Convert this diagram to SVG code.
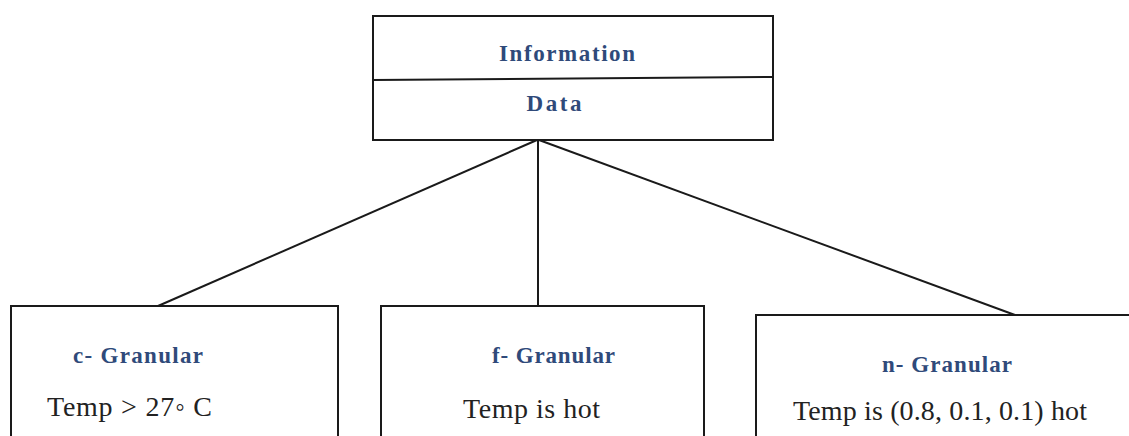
<svg xmlns="http://www.w3.org/2000/svg" width="1129" height="436" viewBox="0 0 1129 436">
  <style>
    .box { fill: #ffffff; stroke: #1a1a1a; stroke-width: 2; }
    .link { stroke: #1a1a1a; stroke-width: 2; fill: none; }
    .head { font-family: 'Liberation Serif', 'Times New Roman', 'DejaVu Serif', serif; font-weight: bold; font-size: 23px; fill: #2f4a7a; }
    .body { font-family: 'Liberation Serif', 'Times New Roman', 'DejaVu Serif', serif; font-size: 28px; fill: #222222; }
  </style>
  <rect width="1129" height="436" fill="#ffffff"/>

  <!-- connectors from the Information/Data box down to the three granularity boxes -->
  <g id="connectors">
    <line class="link" x1="537" y1="140" x2="158" y2="306"/>
    <line class="link" x1="538" y1="140" x2="538" y2="306"/>
    <line class="link" x1="539" y1="140" x2="1015" y2="315"/>
  </g>

  <g id="node-information-data">
    <rect class="box" x="373" y="16" width="400" height="124"/>
    <line class="link" x1="373" y1="80" x2="773" y2="77"/>
    <text class="head" x="567" y="61" text-anchor="middle" textLength="136" lengthAdjust="spacing">Information</text>
    <text class="head" x="554" y="111" text-anchor="middle" textLength="55" lengthAdjust="spacing">Data</text>
  </g>

  <g id="node-c-granular">
    <rect class="box" x="11" y="306" width="327" height="150"/>
    <text class="head" x="73" y="363" textLength="130" lengthAdjust="spacing">c- Granular</text>
    <text class="body" x="47" y="416" textLength="165" lengthAdjust="spacing">Temp &gt; 27◦ C</text>
  </g>

  <g id="node-f-granular">
    <rect class="box" x="381" y="306" width="323" height="150"/>
    <text class="head" x="492" y="363" textLength="123" lengthAdjust="spacing">f- Granular</text>
    <text class="body" x="463" y="418" textLength="137" lengthAdjust="spacing">Temp is hot</text>
  </g>

  <g id="node-n-granular">
    <rect class="box" x="756" y="315" width="400" height="141"/>
    <text class="head" x="882" y="372" textLength="130" lengthAdjust="spacing">n- Granular</text>
    <text class="body" x="793" y="420" textLength="294" lengthAdjust="spacing">Temp is (0.8, 0.1, 0.1) hot</text>
  </g>
</svg>
